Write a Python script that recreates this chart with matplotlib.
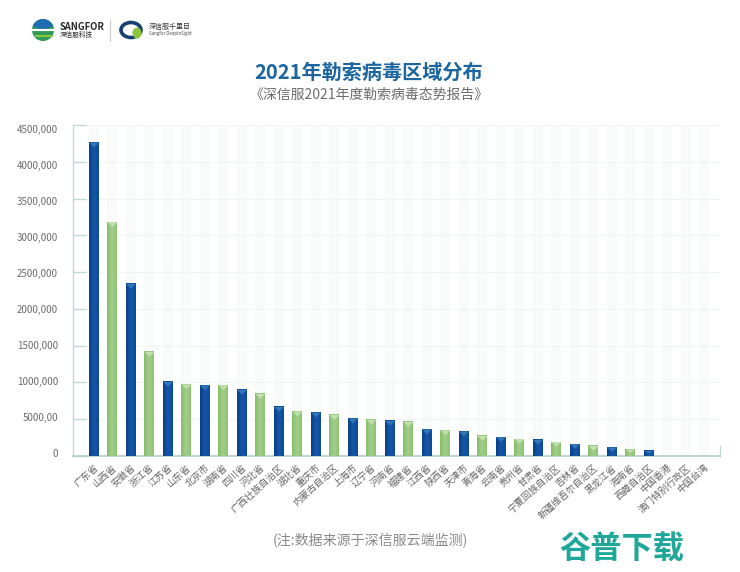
import numpy as np
import matplotlib
matplotlib.use('Agg')
import matplotlib.pyplot as plt
from matplotlib.colors import LinearSegmentedColormap
from matplotlib.patches import Ellipse, Wedge
from matplotlib.transforms import ScaledTranslation

plt.rcParams['font.family'] = ['Noto Sans CJK SC', 'DejaVu Sans']

provinces = ['广东省', '山西省', '安徽省', '浙江省', '江苏省', '山东省', '北京市', '湖南省', '四川省',
             '河北省', '广西壮族自治区', '湖北省', '重庆市', '内蒙古自治区', '上海市', '辽宁省', '河南省',
             '福建省', '江西省', '陕西省', '天津市', '青海省', '云南省', '贵州省', '甘肃省', '宁夏回族自治区',
             '吉林省', '新疆维吾尔自治区', '黑龙江省', '海南省', '西藏自治区', '中国香港', '澳门特别行政区', '中国台湾']
counts = [4260000, 3180000, 2340000, 1415000, 1007000, 973000, 960000, 960000, 900000,
          843000, 667000, 605000, 590000, 558000, 510000, 490000, 476000,
          463000, 360000, 347000, 333000, 272000, 258000, 231000, 218000, 190000,
          163000, 136000, 116000, 88000, 68000, 0, 0, 0]
y_ticks = [0, 500000, 1000000, 1500000, 2000000, 2500000, 3000000, 3500000, 4000000, 4500000]
y_labels = ['0', '5000,00', '1000,000', '1500,000', '2000,000', '2500,000', '3000,000', '3500,000', '4000,000', '4500,000']

W, H = 740, 572
fig = plt.figure(figsize=(W / 100, H / 100), dpi=100, facecolor='white')
ax = fig.add_axes([72.5 / W, 1 - 456 / H, (720 - 72.5) / W, (456 - 125) / H])

blue = LinearSegmentedColormap.from_list('b', ['#0c3f88', '#1457a8', '#0f4b97'])
green = LinearSegmentedColormap.from_list('g', ['#86bd6c', '#a2cf8a', '#8fc276'])
grad = np.linspace(0, 1, 20).reshape(1, -1)
bar_w = 0.54

for i, v in enumerate(counts):
    # faint band behind every category
    ax.axvspan(i - bar_w / 2, i + bar_w / 2, color='#f9fafa', lw=0, zorder=0)
    if v == 0:
        continue
    is_blue = i % 2 == 0
    ax.imshow(grad, extent=[i - bar_w / 2, i + bar_w / 2, 0, v], cmap=blue if is_blue else green,
              aspect='auto', zorder=3)
    # small triangle at the top of the bar
    tip = min(65000, v * 0.5)
    ax.fill([i - bar_w / 2, i + bar_w / 2, i], [v, v, v - tip],
            color='#2f77b8' if is_blue else '#c2e0ae', lw=0, zorder=4)

ax.set_xlim(-1.16, 33.84)
ax.set_ylim(0, 4500000)
ax.set_yticks(y_ticks)
ax.set_yticklabels([])
ax.set_xticks(range(len(provinces)))
ax.set_xticklabels(provinces, rotation=42, ha='right', rotation_mode='anchor', fontsize=6.8, color='#666666')
shift = ScaledTranslation(-4 / 100, 0, fig.dpi_scale_trans)
for t in ax.get_xticklabels():
    t.set_transform(t.get_transform() + shift)
ax.tick_params(axis='x', length=0, pad=5)
ax.tick_params(axis='y', length=9, direction='in', color='#c4d8d8', width=1)
ax.grid(axis='y', color='#f2f4f4', lw=0.8, zorder=1)
ax.set_axisbelow(True)
for s in ['top', 'right']:
    ax.spines[s].set_visible(False)
ax.spines['left'].set_color('#c4d8d8')
ax.spines['bottom'].set_color('#b5cccc')
ax.spines['left'].set_linewidth(1)
ax.spines['bottom'].set_linewidth(1.2)
ax.plot([1, 1], [0, 0.03], transform=ax.transAxes, color='#c4d8d8', lw=1, clip_on=False)

# y labels sit a little off the ticks in the original
for lab, py in zip(y_labels, np.linspace(454, 130, len(y_labels))):
    fig.text(58 / W, 1 - py / H, lab, ha='right', va='center', fontsize=7, color='#6b6b6b')

fig.text(369 / W, 1 - 72 / H, '2021年勒索病毒区域分布', ha='center', va='center', fontsize=14.5,
         fontweight='bold', color='#1c659e')
fig.text(369.5 / W, 1 - 95 / H, '《深信服2021年度勒索病毒态势报告》', ha='center', va='center', fontsize=10,
         color='#6b6b6b')
fig.text(370.5 / W, 1 - 541 / H, '(注:数据来源于深信服云端监测)', ha='center', va='center', fontsize=10.1,
         color='#8a8a8a')
fig.text(622 / W, 1 - 550 / H, '谷普下载', ha='center', va='center', fontsize=22.5, fontweight='bold',
         color='#1fa89a')

# header logos
lg = fig.add_axes([0, 0, 1, 1], facecolor='none')
lg.set_xlim(0, W)
lg.set_ylim(H, 0)
lg.axis('off')
lg.add_patch(Ellipse((43, 30), 22, 22, color='#2f9c5a', lw=0))
lg.add_patch(Wedge((43, 30), 11, 200, 340, color='#1f6fb0', lw=0))
lg.plot([33, 53], [30, 30], color='white', lw=1.5)
lg.plot([36, 52], [36, 36], color='#8cc63f', lw=1.5)
lg.plot([109.5, 109.5], [20, 41], color='#c9c9c9', lw=0.8)
lg.add_patch(Ellipse((131, 30), 20, 15, fill=False, ec='#173f70', lw=2.6))
lg.add_patch(Ellipse((137, 33), 9, 11, color='#8cc63f', lw=0))
fig.text(60 / W, 1 - 27 / H, 'SANGFOR', fontsize=6.8, fontweight='bold', color='#2a2a2a', va='center')
fig.text(60 / W, 1 - 35 / H, '深信服科技', fontsize=4.8, color='#2a2a2a', va='center')
fig.text(149 / W, 1 - 27 / H, '深信服千里目', fontsize=5, color='#333333', va='center')
fig.text(149 / W, 1 - 34 / H, 'Sangfor DeepInSight', fontsize=3.2, color='#444444', va='center')

fig.savefig('out.png', dpi=100)
